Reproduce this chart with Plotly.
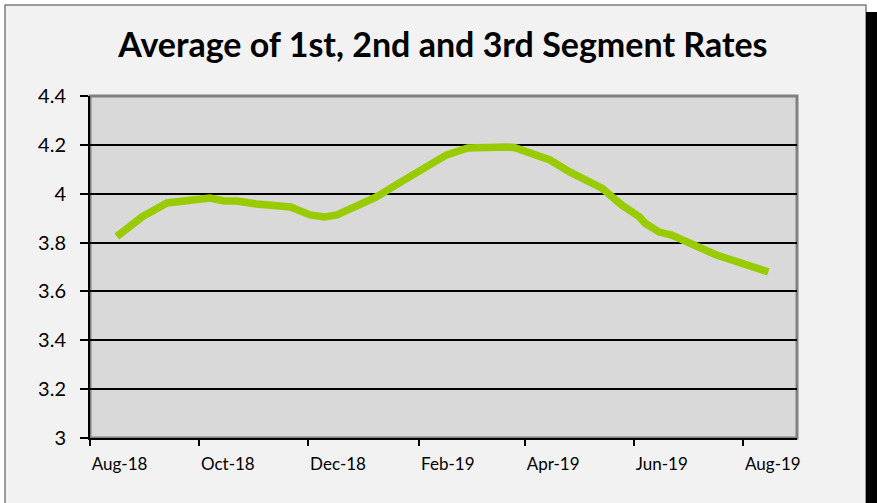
import plotly.graph_objects as go

# ---- data ----
dates = ["2018-08-16", "2018-08-21", "2018-08-30", "2018-09-13", "2018-09-24",
         "2018-09-28", "2018-10-07", "2018-10-15", "2018-10-22", "2018-11-02",
         "2018-11-16", "2018-11-21", "2018-12-02", "2018-12-10", "2018-12-17",
         "2018-12-26", "2019-01-08", "2019-01-19", "2019-01-31", "2019-02-09",
         "2019-02-16", "2019-02-28", "2019-03-09", "2019-03-22", "2019-03-26",
         "2019-04-04", "2019-04-15", "2019-04-26", "2019-05-09", "2019-05-14",
         "2019-05-25", "2019-06-04", "2019-06-07", "2019-06-15", "2019-06-22",
         "2019-06-28", "2019-07-04", "2019-07-08", "2019-07-17", "2019-08-15"]
rates = [3.825, 3.851, 3.905, 3.962, 3.974,
         3.974, 3.982, 3.970, 3.970, 3.958,
         3.946, 3.946, 3.913, 3.905, 3.913,
         3.940, 3.987, 4.036, 4.089, 4.134,
         4.158, 4.187, 4.191, 4.191, 4.189,
         4.167, 4.138, 4.089, 4.044, 4.023,
         3.954, 3.905, 3.880, 3.843, 3.831,
         3.811, 3.798, 3.778, 3.749, 3.680]

x_tick_dates = ["2018-08-01", "2018-10-01", "2018-12-01", "2019-02-01",
                "2019-04-01", "2019-06-01", "2019-08-01"]
x_tick_labels = ["Aug-18", "Oct-18", "Dec-18", "Feb-19", "Apr-19", "Jun-19", "Aug-19"]
y_tick_vals = [3.0, 3.2, 3.4, 3.6, 3.8, 4.0, 4.2, 4.4]
y_tick_labels = ["3", "3.2", "3.4", "3.6", "3.8", "4", "4.2", "4.4"]

title_text = "Average of 1st, 2nd and 3rd Segment Rates"

W, H = 877, 503
L, R, T, B = 90, 80, 96, 65
pw, ph = W - L - R, H - T - B


def px_x(p):
    return (p - L) / pw


def px_y(p):
    return (H - B - p) / ph


fig = go.Figure()
fig.add_trace(go.Scatter(
    x=dates, y=rates, mode="lines",
    line=dict(color="#99cc00", width=7.5),
    hoverinfo="x+y", showlegend=False,
))

shapes = [
    # outer chart area
    dict(type="rect", xref="paper", yref="paper",
         x0=px_x(5), x1=px_x(866), y0=px_y(515), y1=px_y(5),
         fillcolor="#f2f2f2", line=dict(color="#7f7f7f", width=1.5), layer="below"),
    # shadow on the right
    dict(type="rect", xref="paper", yref="paper",
         x0=px_x(866), x1=px_x(880), y0=px_y(515), y1=px_y(12),
         fillcolor="#000000", line=dict(width=0), layer="below"),
    # plot area
    dict(type="rect", xref="paper", yref="paper",
         x0=0, x1=1, y0=0, y1=1,
         fillcolor="#d9d9d9", line=dict(color="#808080", width=3), layer="below"),
]

fig.update_layout(
    width=W, height=H,
    margin=dict(l=L, r=R, t=T, b=B, pad=0),
    paper_bgcolor="white",
    plot_bgcolor="rgba(0,0,0,0)",
    shapes=shapes,
    title=dict(text="<b>" + title_text + "</b>", x=0.505, xanchor="center",
               y=1 - 45 / H, yanchor="middle",
               font=dict(family="Lato", size=34, color="black")),
    font=dict(family="Lato", color="black"),
)

fig.update_xaxes(
    type="date",
    range=["2018-08-01", "2019-08-31"],
    tickvals=x_tick_dates, ticktext=x_tick_labels,
    ticks="outside", ticklen=6, tickwidth=1.5, tickcolor="black",
    ticklabelposition="outside right",
    ticklabelstandoff=10,
    tickfont=dict(family="Lato", size=17, color="black"),
    showgrid=False, zeroline=False,
    showline=True, linecolor="black", linewidth=2,
    fixedrange=True,
)
fig.update_yaxes(
    range=[3, 4.4],
    tickvals=y_tick_vals, ticktext=y_tick_labels,
    ticks="outside", ticklen=8, tickwidth=1.5, tickcolor="black",
    ticklabelstandoff=10,
    tickfont=dict(family="Lato", size=20, color="black"),
    showgrid=True, gridcolor="black", gridwidth=1.5,
    zeroline=False,
    showline=True, linecolor="black", linewidth=2,
    fixedrange=True,
)

fig.write_html("out.html", config={"displayModeBar": False},
               post_script="document.body.style.margin='0';document.body.style.overflow='hidden';")
